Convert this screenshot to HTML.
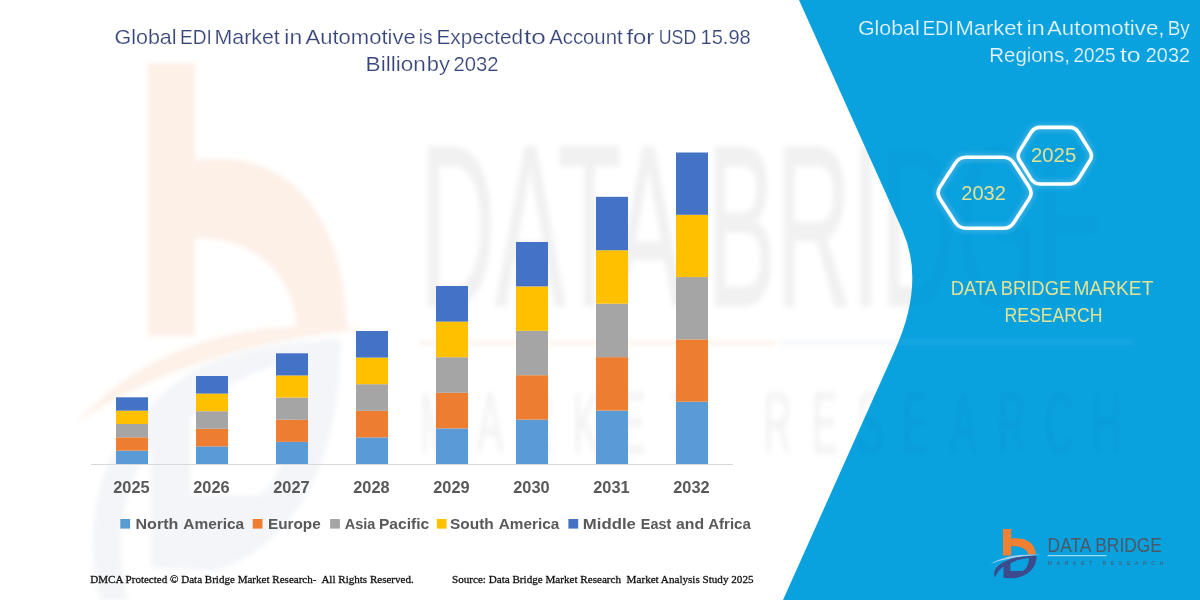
<!DOCTYPE html>
<html><head><meta charset="utf-8">
<style>
html,body{margin:0;padding:0;width:1200px;height:600px;overflow:hidden;background:#fff}
svg{display:block}
text{font-family:"Liberation Sans",sans-serif;white-space:pre}
.ser text{font-family:"Liberation Serif",serif}
</style></head><body>
<svg width="1200" height="600" viewBox="0 0 1200 600">
<defs>
  <filter id="bl" x="-10%" y="-10%" width="120%" height="120%"><feGaussianBlur stdDeviation="2.5"/></filter>
  <filter id="bl2" x="-10%" y="-10%" width="120%" height="120%"><feGaussianBlur stdDeviation="3.5"/></filter>
</defs>
<rect width="1200" height="600" fill="#ffffff"/>
<g filter="url(#bl)">
  <path d="M 148.0 63.0 L 195.2 63.0 L 195.2 336.0 L 148.0 336.0 Z M 194.0 160.9 C 280.2 145.4 345 207.2 346.6 330 L 296.8 330 C 293.9 269.0 251.5 238.1 195.2 238.1 Z" fill="#fdf0e7"/>
  <path d="M 76.1 423.5 Q 176.8 310.2 366.5 328.7 Q 188.2 346.2 76.1 423.5 Z" fill="#fdf1e8"/>
  <path fill-rule="evenodd" fill="#f3f5f9" d="M 100 600 C 78 500 107.8 423.5 199.8 366.9 C 245.8 346.2 303.2 341.1 340.6 339.0 C 340.6 444.1 309.0 536.8 217.0 570.8 L 150.9 567.7 L 150.9 449.2 C 125 480 112 540 128 600 Z M 190.5 418.4 C 217.0 387.5 257.2 366.9 297.5 361.7 C 294.6 433.8 280.2 485.3 257.2 495.6 L 190.5 495.6 Z"/>
  <text x="420" y="305" font-size="228" fill="#f4f4f4" stroke="#f4f4f4" stroke-width="4" textLength="687" lengthAdjust="spacingAndGlyphs">DATA BRIDGE</text>
  <rect x="420" y="341" width="355" height="4" fill="#fdf1e8"/>
  <rect x="780" y="341" width="140" height="4" fill="#f3f5f9"/>
  <text filter="url(#bl2)" transform="scale(0.45,1)" y="453" font-size="88" fill="#f5f5f5" x="933 1060 1167 1273 1378 1489 1696 1804 1904 2004 2111 2216 2322 2427">MARKETRESEARCH</text>
</g>
<path d="M799 0 L902.3 230 Q925.5 282 895 350 L783 600 L1200 600 L1200 0 Z" fill="#0aa1df"/>
<rect x="900" y="339" width="235" height="6" fill="#ffffff" opacity="0.06" filter="url(#bl)"/>
<g filter="url(#bl)" opacity="0.022">
  <text opacity="0.6" x="420" y="305" font-size="228" fill="#000000" textLength="687" lengthAdjust="spacingAndGlyphs">DATA BRIDGE</text>
  <text transform="scale(0.45,1)" y="453" font-size="88" fill="#000000" x="933 1060 1167 1273 1378 1489 1696 1804 1904 2004 2111 2216 2322 2427">MARKETRESEARCH</text>
</g>
<g font-size="21" fill="#36457a" stroke="#ffffff" stroke-width="0.2">
<text x="114.48" y="43.6" textLength="62.11" lengthAdjust="spacingAndGlyphs">Global</text>
<text x="179.91" y="43.6" textLength="31.82" lengthAdjust="spacingAndGlyphs">EDI</text>
<text x="214.52" y="43.6" textLength="65.26" lengthAdjust="spacingAndGlyphs">Market</text>
<text x="284.37" y="43.6" textLength="17.8" lengthAdjust="spacingAndGlyphs">in</text>
<text x="305.5" y="43.6" textLength="110.21" lengthAdjust="spacingAndGlyphs">Automotive</text>
<text x="418.73" y="43.6" textLength="13.88" lengthAdjust="spacingAndGlyphs">is</text>
<text x="436.52" y="43.6" textLength="86.47" lengthAdjust="spacingAndGlyphs">Expected</text>
<text x="524.09" y="43.6" textLength="21.77" lengthAdjust="spacingAndGlyphs">to</text>
<text x="549.2" y="43.6" textLength="73.42" lengthAdjust="spacingAndGlyphs">Account</text>
<text x="626.42" y="43.6" textLength="27.88" lengthAdjust="spacingAndGlyphs">for</text>
<text x="658.73" y="43.6" textLength="37.49" lengthAdjust="spacingAndGlyphs">USD</text>
<text x="700.57" y="43.6" textLength="50.2" lengthAdjust="spacingAndGlyphs">15.98</text>
<text x="365.62" y="70.6" textLength="60.15" lengthAdjust="spacingAndGlyphs">Billion</text>
<text x="426.8" y="70.6" textLength="23.14" lengthAdjust="spacingAndGlyphs">by</text>
<text x="453.44" y="70.6" textLength="45.0" lengthAdjust="spacingAndGlyphs">2032</text>
</g>
<rect x="91" y="464" width="642" height="1" fill="#d9d9d9"/>
<g>
<rect x="116" y="450.66" width="32" height="13.34" fill="#5b9bd5"/>
<rect x="116" y="437.32" width="32" height="13.34" fill="#ed7d31"/>
<rect x="116" y="423.98" width="32" height="13.34" fill="#a5a5a5"/>
<rect x="116" y="410.64" width="32" height="13.34" fill="#ffc000"/>
<rect x="116" y="397.30" width="32" height="13.34" fill="#4472c4"/>
<rect x="196" y="446.40" width="32" height="17.60" fill="#5b9bd5"/>
<rect x="196" y="428.80" width="32" height="17.60" fill="#ed7d31"/>
<rect x="196" y="411.20" width="32" height="17.60" fill="#a5a5a5"/>
<rect x="196" y="393.60" width="32" height="17.60" fill="#ffc000"/>
<rect x="196" y="376.00" width="32" height="17.60" fill="#4472c4"/>
<rect x="276" y="441.86" width="32" height="22.14" fill="#5b9bd5"/>
<rect x="276" y="419.72" width="32" height="22.14" fill="#ed7d31"/>
<rect x="276" y="397.58" width="32" height="22.14" fill="#a5a5a5"/>
<rect x="276" y="375.44" width="32" height="22.14" fill="#ffc000"/>
<rect x="276" y="353.30" width="32" height="22.14" fill="#4472c4"/>
<rect x="356" y="437.40" width="32" height="26.60" fill="#5b9bd5"/>
<rect x="356" y="410.80" width="32" height="26.60" fill="#ed7d31"/>
<rect x="356" y="384.20" width="32" height="26.60" fill="#a5a5a5"/>
<rect x="356" y="357.60" width="32" height="26.60" fill="#ffc000"/>
<rect x="356" y="331.00" width="32" height="26.60" fill="#4472c4"/>
<rect x="436" y="428.40" width="32" height="35.60" fill="#5b9bd5"/>
<rect x="436" y="392.80" width="32" height="35.60" fill="#ed7d31"/>
<rect x="436" y="357.20" width="32" height="35.60" fill="#a5a5a5"/>
<rect x="436" y="321.60" width="32" height="35.60" fill="#ffc000"/>
<rect x="436" y="286.00" width="32" height="35.60" fill="#4472c4"/>
<rect x="516" y="419.60" width="32" height="44.40" fill="#5b9bd5"/>
<rect x="516" y="375.20" width="32" height="44.40" fill="#ed7d31"/>
<rect x="516" y="330.80" width="32" height="44.40" fill="#a5a5a5"/>
<rect x="516" y="286.40" width="32" height="44.40" fill="#ffc000"/>
<rect x="516" y="242.00" width="32" height="44.40" fill="#4472c4"/>
<rect x="596" y="410.56" width="32" height="53.44" fill="#5b9bd5"/>
<rect x="596" y="357.12" width="32" height="53.44" fill="#ed7d31"/>
<rect x="596" y="303.68" width="32" height="53.44" fill="#a5a5a5"/>
<rect x="596" y="250.24" width="32" height="53.44" fill="#ffc000"/>
<rect x="596" y="196.80" width="32" height="53.44" fill="#4472c4"/>
<rect x="676" y="401.70" width="32" height="62.30" fill="#5b9bd5"/>
<rect x="676" y="339.40" width="32" height="62.30" fill="#ed7d31"/>
<rect x="676" y="277.10" width="32" height="62.30" fill="#a5a5a5"/>
<rect x="676" y="214.80" width="32" height="62.30" fill="#ffc000"/>
<rect x="676" y="152.50" width="32" height="62.30" fill="#4472c4"/>
</g>
<g font-size="15.8" font-weight="bold" fill="#595959">
<text x="113.23" y="493.1" textLength="36.43" lengthAdjust="spacingAndGlyphs">2025</text>
<text x="193.23" y="493.1" textLength="36.43" lengthAdjust="spacingAndGlyphs">2026</text>
<text x="273.23" y="493.1" textLength="36.43" lengthAdjust="spacingAndGlyphs">2027</text>
<text x="353.23" y="493.1" textLength="36.43" lengthAdjust="spacingAndGlyphs">2028</text>
<text x="433.23" y="493.1" textLength="36.43" lengthAdjust="spacingAndGlyphs">2029</text>
<text x="513.23" y="493.1" textLength="36.43" lengthAdjust="spacingAndGlyphs">2030</text>
<text x="593.23" y="493.1" textLength="36.43" lengthAdjust="spacingAndGlyphs">2031</text>
<text x="673.23" y="493.1" textLength="36.43" lengthAdjust="spacingAndGlyphs">2032</text>
</g>
<rect x="120.3" y="519" width="9.8" height="9.6" fill="#5b9bd5"/>
<rect x="252.7" y="519" width="9.8" height="9.6" fill="#ed7d31"/>
<rect x="330.1" y="519" width="9.8" height="9.6" fill="#a5a5a5"/>
<rect x="436.8" y="519" width="9.8" height="9.6" fill="#ffc000"/>
<rect x="568.4" y="519" width="9.8" height="9.6" fill="#4472c4"/>
<g font-size="15" font-weight="bold" fill="#595959">
<text x="135.53" y="528.6" textLength="42.83" lengthAdjust="spacingAndGlyphs">North</text>
<text x="183.24" y="528.6" textLength="60.97" lengthAdjust="spacingAndGlyphs">America</text>
<text x="267.98" y="528.6" textLength="52.76" lengthAdjust="spacingAndGlyphs">Europe</text>
<text x="344.72" y="528.6" textLength="30.62" lengthAdjust="spacingAndGlyphs">Asia</text>
<text x="378.96" y="528.6" textLength="50.28" lengthAdjust="spacingAndGlyphs">Pacific</text>
<text x="450.09" y="528.6" textLength="43.73" lengthAdjust="spacingAndGlyphs">South</text>
<text x="498.69" y="528.6" textLength="60.51" lengthAdjust="spacingAndGlyphs">America</text>
<text x="582.88" y="528.6" textLength="52.97" lengthAdjust="spacingAndGlyphs">Middle</text>
<text x="640.84" y="528.6" textLength="30.44" lengthAdjust="spacingAndGlyphs">East</text>
<text x="676.07" y="528.6" textLength="28.09" lengthAdjust="spacingAndGlyphs">and</text>
<text x="708.25" y="528.6" textLength="42.57" lengthAdjust="spacingAndGlyphs">Africa</text>
</g>
<g class="ser" font-size="11.3" fill="#111" stroke="#111" stroke-width="0.3">
<text x="90.26" y="583" textLength="323.52" lengthAdjust="spacingAndGlyphs">DMCA Protected © Data Bridge Market Research-  All Rights Reserved.</text>
<text x="451.96" y="583" textLength="301.55" lengthAdjust="spacingAndGlyphs">Source: Data Bridge Market Research  Market Analysis Study 2025</text>
</g>
<g font-size="21" fill="#e8f5fb" stroke="#0aa1df" stroke-width="0.2">
<text x="857.98" y="34.8" textLength="61.75" lengthAdjust="spacingAndGlyphs">Global</text>
<text x="922.7" y="34.8" textLength="31.09" lengthAdjust="spacingAndGlyphs">EDI</text>
<text x="955.42" y="34.8" textLength="67.27" lengthAdjust="spacingAndGlyphs">Market</text>
<text x="1026.58" y="34.8" textLength="18.16" lengthAdjust="spacingAndGlyphs">in</text>
<text x="1047.0" y="34.8" textLength="117.5" lengthAdjust="spacingAndGlyphs">Automotive,</text>
<text x="1167.68" y="34.8" textLength="22.06" lengthAdjust="spacingAndGlyphs">By</text>
<text x="989.3" y="61.5" textLength="80.53" lengthAdjust="spacingAndGlyphs">Regions,</text>
<text x="1073.5" y="61.5" textLength="42.13" lengthAdjust="spacingAndGlyphs">2025</text>
<text x="1119.95" y="61.5" textLength="20.75" lengthAdjust="spacingAndGlyphs">to</text>
<text x="1145.86" y="61.5" textLength="44.06" lengthAdjust="spacingAndGlyphs">2032</text>
</g>
<g fill="none" stroke="#ffffff" stroke-width="8" opacity="0.18" filter="url(#bl)">
  <path d="M955.3 163.2 Q959.1 157.3 966.1 157.3 L1003.1 157.3 Q1010.1 157.3 1013.9 163.2 L1029.2 186.9 Q1033.0 192.8 1029.2 198.7 L1013.9 222.4 Q1010.1 228.3 1003.1 228.3 L966.1 228.3 Q959.1 228.3 955.3 222.4 L940.0 198.7 Q936.2 192.8 940.0 186.9 Z"/>
  <path d="M1031.0 132.5 Q1034.2 127.4 1040.2 127.4 L1069.4 127.4 Q1075.4 127.4 1078.6 132.5 L1089.8 150.6 Q1093.0 155.7 1089.8 160.8 L1078.6 178.9 Q1075.4 184.0 1069.4 184.0 L1040.2 184.0 Q1034.2 184.0 1031.0 178.9 L1019.8 160.8 Q1016.6 155.7 1019.8 150.6 Z"/>
</g>
<g fill="none" stroke="#ffffff" stroke-width="3.6">
  <path d="M955.3 163.2 Q959.1 157.3 966.1 157.3 L1003.1 157.3 Q1010.1 157.3 1013.9 163.2 L1029.2 186.9 Q1033.0 192.8 1029.2 198.7 L1013.9 222.4 Q1010.1 228.3 1003.1 228.3 L966.1 228.3 Q959.1 228.3 955.3 222.4 L940.0 198.7 Q936.2 192.8 940.0 186.9 Z"/>
  <path d="M1031.0 132.5 Q1034.2 127.4 1040.2 127.4 L1069.4 127.4 Q1075.4 127.4 1078.6 132.5 L1089.8 150.6 Q1093.0 155.7 1089.8 160.8 L1078.6 178.9 Q1075.4 184.0 1069.4 184.0 L1040.2 184.0 Q1034.2 184.0 1031.0 178.9 L1019.8 160.8 Q1016.6 155.7 1019.8 150.6 Z"/>
</g>
<g fill="#e2e294" font-size="21">
<text x="961.24" y="199.9" textLength="44.68" lengthAdjust="spacingAndGlyphs">2032</text>
<text x="1031.03" y="162.4" textLength="45.2" lengthAdjust="spacingAndGlyphs">2025</text>
</g>
<g fill="#e2e294" font-size="20.7">
<text x="950.64" y="295" textLength="46.48" lengthAdjust="spacingAndGlyphs">DATA</text>
<text x="1000.75" y="295" textLength="70.42" lengthAdjust="spacingAndGlyphs">BRIDGE</text>
<text x="1073.38" y="295" textLength="79.99" lengthAdjust="spacingAndGlyphs">MARKET</text>
<text x="1004.51" y="321.8" textLength="98.0" lengthAdjust="spacingAndGlyphs">RESEARCH</text>
</g>
<g>
  <rect x="1003" y="529" width="8.2" height="26.5" fill="#f28033"/>
  <path d="M1011 538.5 C1026 537 1035.5 543 1035.8 554.5 L1028 554.5 C1027.5 549 1021 546 1011.2 546 Z" fill="#f28033"/>
  <path d="M990.5 564 Q1008 553 1041 554.8 Q1010 556.5 990.5 564 Z" fill="#a9cde8"/>
  <path fill-rule="evenodd" fill="#3b4b8c" d="M995 577.5 C992.5 571 996 564 1012 558.5 C1020 556.5 1030 556 1036.5 555.8 C1036.5 566 1031 575 1015 578.3 L1003.5 578 L1003.5 566.5 C999.5 569 997 573 995 577.5 Z M1010.4 563.5 C1015 560.5 1022 558.5 1029 558 C1028.5 565 1026 570 1022 571 L1010.4 571 Z"/>
  <text x="1047.6" y="552.2" font-size="21" fill="#4d5866" textLength="114.3" lengthAdjust="spacingAndGlyphs">DATA BRIDGE</text>
  <rect x="1047.6" y="555" width="59" height="1.2" fill="#a8d6f0"/>
  <text x="1047.6" y="565.3" font-size="5.4" fill="#4d5866" textLength="115.9" lengthAdjust="spacing">MARKET RESEARCH</text>
</g>
</svg>
</body></html>
